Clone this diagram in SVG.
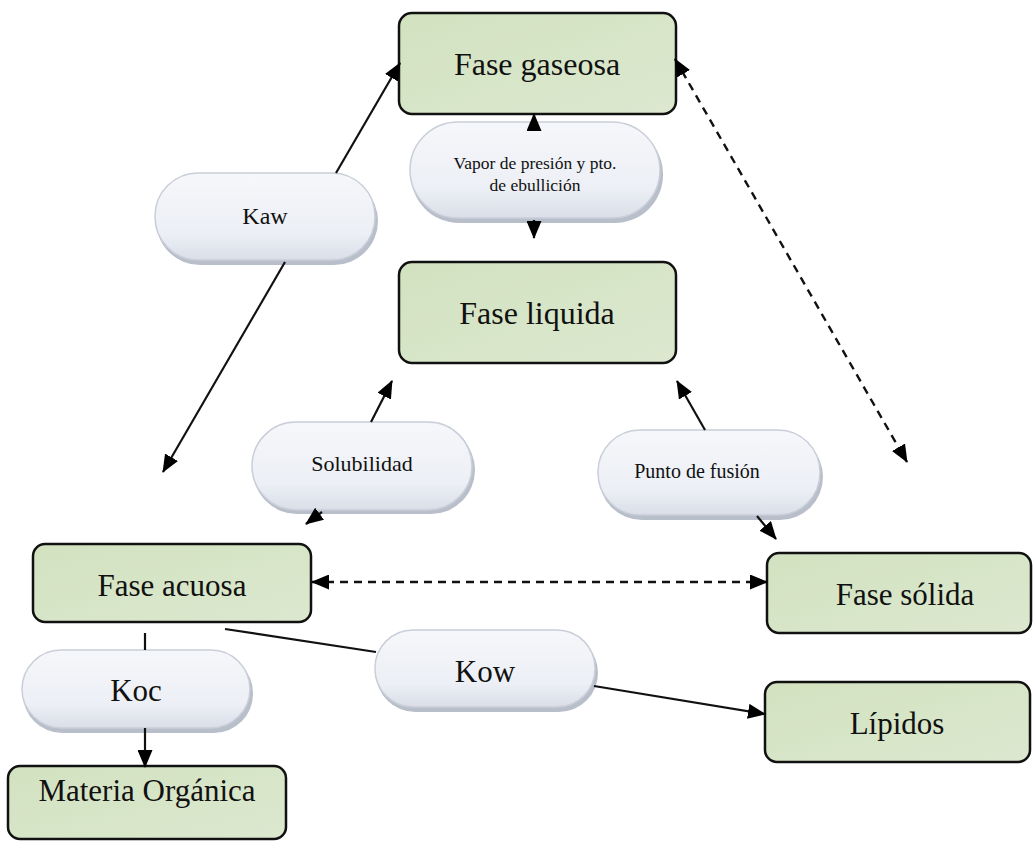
<svg xmlns="http://www.w3.org/2000/svg" width="1034" height="842" viewBox="0 0 1034 842">
<defs>
<marker id="arr" viewBox="0 0 18 15" refX="17" refY="7.5" markerWidth="18" markerHeight="15" markerUnits="userSpaceOnUse" orient="auto-start-reverse">
<path d="M0,0 L18,7.5 L0,15 Z" fill="#000"/>
</marker>
<linearGradient id="pill" x1="0" y1="0" x2="0" y2="1">
<stop offset="0" stop-color="#f6f7fa"/>
<stop offset="0.7" stop-color="#eceff5"/>
<stop offset="1" stop-color="#d9dee8"/>
</linearGradient>
<linearGradient id="box" x1="0" y1="0" x2="1" y2="1">
<stop offset="0" stop-color="#d2e2c0"/>
<stop offset="1" stop-color="#dce8cf"/>
</linearGradient>
</defs>
<style>
.box{fill:url(#box);stroke:#111;stroke-width:2.5}
.pill{fill:url(#pill);stroke:#c9ced8;stroke-width:1.5}
.sh{fill:#b9bfca}
.t{font-family:"Liberation Serif","Times New Roman",serif;fill:#111;text-anchor:middle}
.c{stroke:#111;stroke-width:2.2;fill:none}
.d{stroke:#111;stroke-width:2.4;fill:none;stroke-dasharray:8 6}
</style>
<rect width="1034" height="842" fill="#fff"/>
<g id="n-gaseosa">
<rect class="box" x="399" y="13" width="277" height="101" rx="13"/>
<text class="t" x="537" y="75" font-size="32">Fase gaseosa</text>
</g>
<g id="n-vapor">
<rect class="sh" x="411" y="126" width="252" height="97" rx="48"/>
<rect class="pill" x="410" y="122" width="250" height="96" rx="48"/>
<text class="t" x="535" y="169" font-size="17.5">Vapor de presión y pto.</text>
<text class="t" x="535" y="191" font-size="17.5">de ebullición</text>
</g>
<g id="n-liquida">
<rect class="box" x="399" y="262" width="277" height="101" rx="13"/>
<text class="t" x="537" y="324" font-size="32">Fase liquida</text>
</g>
<g id="n-kaw">
<rect class="sh" x="156" y="177" width="222" height="88" rx="44"/>
<rect class="pill" x="155" y="173" width="220" height="87" rx="43"/>
<text class="t" x="265" y="224" font-size="24">Kaw</text>
</g>
<g id="n-solubilidad">
<rect class="sh" x="253" y="426" width="222" height="88" rx="44"/>
<rect class="pill" x="252" y="422" width="220" height="88" rx="44"/>
<text class="t" x="362" y="471" font-size="22">Solubilidad</text>
</g>
<g id="n-fusion">
<rect class="sh" x="599" y="434" width="224" height="86" rx="43"/>
<rect class="pill" x="598" y="430" width="222" height="85" rx="42"/>
<text class="t" x="697" y="478" font-size="20">Punto de fusión</text>
</g>
<g id="n-acuosa">
<rect class="box" x="33" y="544" width="278" height="78" rx="12"/>
<text class="t" x="172" y="596" font-size="31">Fase acuosa</text>
</g>
<g id="n-solida">
<rect class="box" x="767" y="553" width="264" height="80" rx="12"/>
<text class="t" x="905" y="605" font-size="31">Fase sólida</text>
</g>
<g id="n-koc">
<rect class="sh" x="23" y="654" width="230" height="79" rx="39"/>
<rect class="pill" x="22" y="650" width="228" height="78" rx="39"/>
<text class="t" x="136" y="701" font-size="31">Koc</text>
</g>
<g id="n-kow">
<rect class="sh" x="376" y="634" width="222" height="78" rx="39"/>
<rect class="pill" x="375" y="630" width="220" height="77" rx="38"/>
<text class="t" x="485" y="682" font-size="31">Kow</text>
</g>
<g id="n-lipidos">
<rect class="box" x="765" y="682" width="265" height="80" rx="12"/>
<text class="t" x="897" y="734" font-size="31">Lípidos</text>
</g>
<g id="n-materia">
<rect class="box" x="8" y="766" width="278" height="73" rx="12"/>
<text class="t" x="147" y="801" font-size="31">Materia Orgánica</text>
</g>
<g id="connectors">
<line class="c" x1="163" y1="472" x2="285" y2="262" marker-start="url(#arr)"/>
<line class="c" x1="336" y1="173" x2="400" y2="63" marker-end="url(#arr)"/>
<line class="c" x1="534" y1="126" x2="534" y2="114" marker-end="url(#arr)"/>
<line class="c" x1="534" y1="220" x2="534" y2="238" marker-end="url(#arr)"/>
<line class="c" x1="371" y1="422" x2="392" y2="381" marker-end="url(#arr)"/>
<line class="c" x1="322" y1="512" x2="306" y2="524" marker-end="url(#arr)"/>
<line class="c" x1="705" y1="430" x2="677" y2="381" marker-end="url(#arr)"/>
<line class="c" x1="757" y1="516" x2="776" y2="539" marker-end="url(#arr)"/>
<line class="d" x1="675" y1="59" x2="907" y2="462" marker-start="url(#arr)" marker-end="url(#arr)"/>
<line class="d" x1="312" y1="582" x2="767" y2="582" marker-start="url(#arr)" marker-end="url(#arr)"/>
<line class="c" x1="145" y1="633" x2="145" y2="650"/>
<line class="c" x1="145" y1="728" x2="145" y2="767" marker-end="url(#arr)"/>
<line class="c" x1="225" y1="629" x2="376" y2="652"/>
<line class="c" x1="594" y1="686" x2="765" y2="714" marker-end="url(#arr)"/>
</g>
</svg>
